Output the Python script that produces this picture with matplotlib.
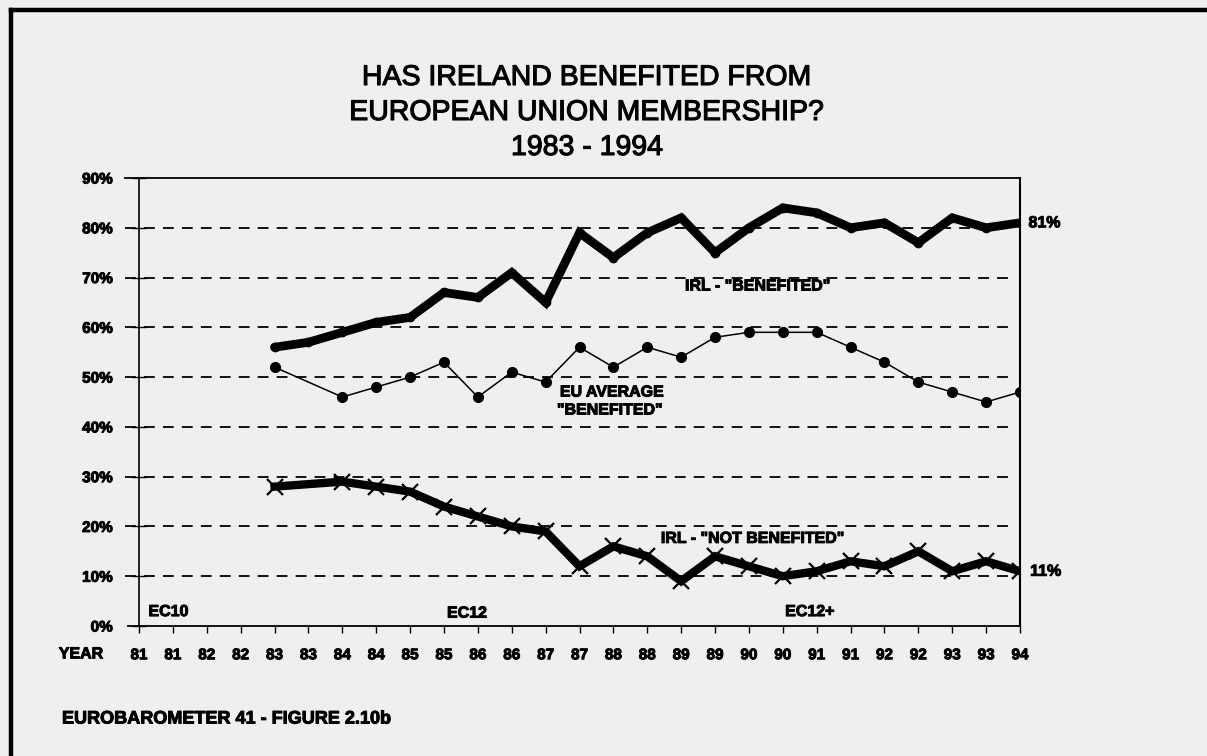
import matplotlib
matplotlib.use("Agg")
import matplotlib.pyplot as plt
import matplotlib.patheffects as pe
from matplotlib import font_manager

# ---------------- data ----------------
year_labels = ["81", "81", "82", "82", "83", "83", "84", "84", "85", "85", "86", "86",
               "87", "87", "88", "88", "89", "89", "90", "90", "91", "91", "92", "92",
               "93", "93", "94"]
y_ticks = [0, 10, 20, 30, 40, 50, 60, 70, 80, 90]

irl_benefited = [None, None, None, None, 56, 57, 59, 61, 62, 67, 66, 71, 65, 79, 74, 79,
                 82, 75, 80, 84, 83, 80, 81, 77, 82, 80, 81]
eu_benefited = [None, None, None, None, 52, None, 46, 48, 50, 53, 46, 51, 49, 56, 52, 56,
                54, 58, 59, 59, 59, 56, 53, 49, 47, 45, 47]
irl_not_benefited = [None, None, None, None, 28, None, 29, 28, 27, 24, 22, 20, 19, 12, 16, 14,
                     9, 14, 12, 10, 11, 13, 12, 15, 11, 13, 11]

title_lines = ["HAS IRELAND BENEFITED FROM", "EUROPEAN UNION MEMBERSHIP?", "1983 - 1994"]

# ---------------- fonts ----------------
avail = {f.name for f in font_manager.fontManager.ttflist}
narrow = "Liberation Sans Narrow" if "Liberation Sans Narrow" in avail else "Liberation Sans"
plt.rcParams["font.family"] = [narrow, "DejaVu Sans"]

heavy = [pe.withStroke(linewidth=0.7, foreground="black")]

BG = "#efefef"
fig = plt.figure(figsize=(12.07, 7.56), dpi=100, facecolor=BG)

# outer frame (top and left)
fig.add_artist(plt.Line2D([0.0095, 1.0], [0.987, 0.987], color="black", lw=3.2,
                          transform=fig.transFigure))
fig.add_artist(plt.Line2D([0.0095, 0.0095], [0.0, 0.987], color="black", lw=3.2,
                          transform=fig.transFigure))

ax = fig.add_axes([139 / 1207, 1 - 626 / 756, (1020 - 139) / 1207, (626 - 178) / 756])
ax.set_facecolor(BG)
ax.set_xlim(0, len(year_labels) - 1)
ax.set_ylim(0, 90)


def pts(vals):
    xs = [i for i, v in enumerate(vals) if v is not None]
    ys = [v for v in vals if v is not None]
    return xs, ys


# gridlines (dashed)
for yv in y_ticks[1:-1]:
    ax.plot([-0.4, 25.85], [yv, yv], color="black", lw=1.3, ls=(0, (6, 4.5)),
            clip_on=False, zorder=1)
# top and bottom lines extending left
ax.plot([-0.4, 26], [90, 90], color="black", lw=1.3, clip_on=False, zorder=1)
ax.plot([-0.33, 26], [0, 0], color="black", lw=1.3, clip_on=False, zorder=1)

for s in ["top", "bottom"]:
    ax.spines[s].set_visible(False)
ax.spines["left"].set_linewidth(1.2)
ax.spines["right"].set_linewidth(1.5)

x, y = pts(irl_benefited)
ax.plot(x, y, color="black", lw=6.3, solid_joinstyle="miter", solid_capstyle="round",
        marker="o", markersize=6, zorder=4)
x, y = pts(eu_benefited)
ax.plot(x, y, color="black", lw=1.1, marker="o", markersize=7, zorder=4)
x, y = pts(irl_not_benefited)
ax.plot(x, y, color="black", lw=6.0, solid_joinstyle="miter",
        marker="x", markersize=11, markeredgewidth=1.6, zorder=4)

# ticks
ax.set_yticks(y_ticks)
ax.set_yticklabels([f"{v}%" for v in y_ticks], fontsize=11, fontweight="bold")
ax.tick_params(axis="y", direction="inout", length=10, width=1.0, pad=14)
ax.set_xticks(range(len(year_labels)))
ax.set_xticklabels(year_labels, fontsize=11, fontweight="bold")
ax.tick_params(axis="x", direction="out", length=5, width=1.0, pad=11)
for lab in ax.get_xticklabels() + ax.get_yticklabels():
    lab.set_path_effects(heavy)

tb = dict(fontsize=11.5, fontweight="bold", color="black", path_effects=heavy)
ax.text(-1.05, -5.6, "YEAR", ha="right", va="center", **tb)

# annotations
ax.text(26.25, 81, "81%", ha="left", va="center", **tb)
ax.text(26.3, 11, "11%", ha="left", va="center", **tb)
ax.text(18.27, 68.3, "IRL - \"BENEFITED\"", ha="center", va="center", **tb)
ax.text(13.96, 47.0, "EU AVERAGE", ha="center", va="center", **tb)
ax.text(13.9, 43.4, "\"BENEFITED\"", ha="center", va="center", **tb)
ax.text(18.12, 17.6, "IRL - \"NOT BENEFITED\"", ha="center", va="center", **tb)
ax.text(0.28, 2.9, "EC10", ha="left", va="center", **tb)
ax.text(9.09, 2.6, "EC12", ha="left", va="center", **tb)
ax.text(19.07, 2.9, "EC12+", ha="left", va="center", **tb)

# title
for i, line in enumerate(title_lines):
    fig.text(587 / 1207, 1 - (78 + 35 * i) / 756, line, ha="center", va="center",
             fontsize=20.5, family=["Liberation Sans", "DejaVu Sans"],
             path_effects=[pe.withStroke(linewidth=0.8, foreground="black")])

fig.text(62 / 1207, 1 - 719 / 756, "EUROBAROMETER 41 - FIGURE 2.10b", ha="left",
         va="center", fontsize=13, fontweight="bold", path_effects=heavy)

fig.savefig("out.png", dpi=100, facecolor=BG)
